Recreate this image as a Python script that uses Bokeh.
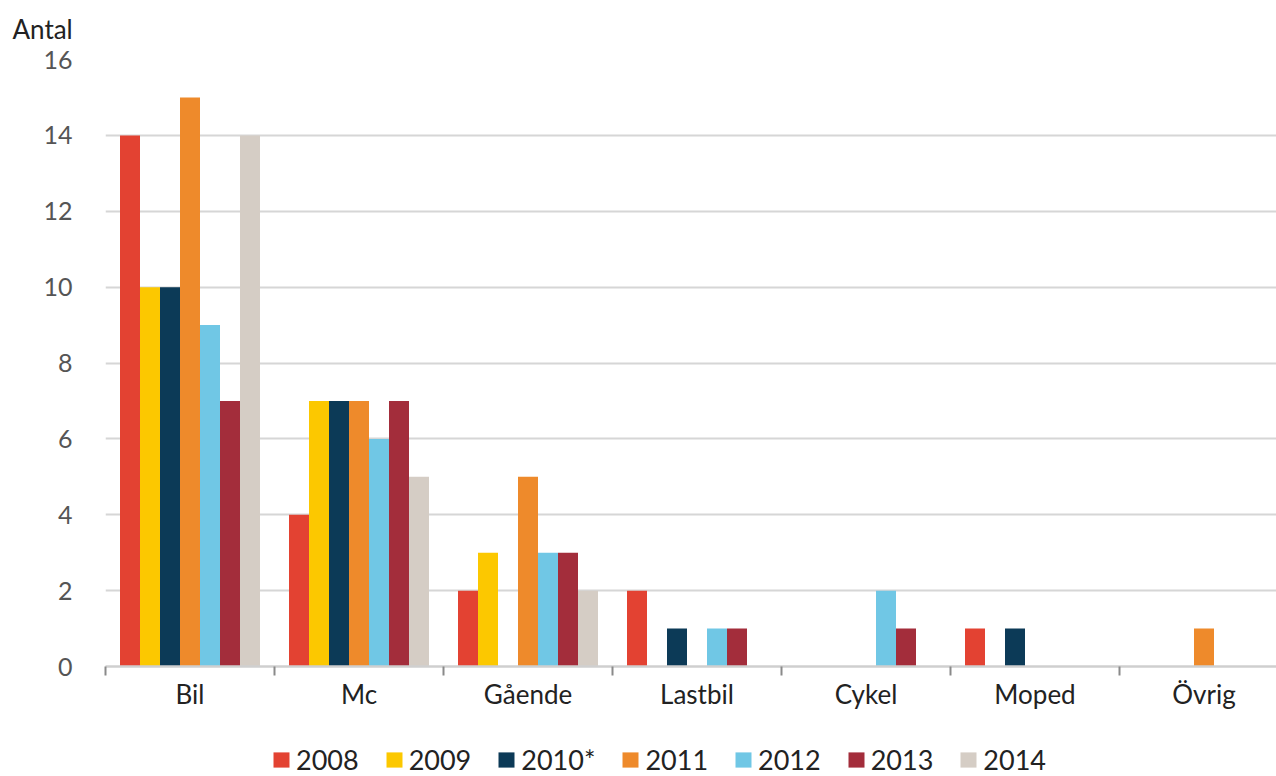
import numpy as np
from bokeh.plotting import figure
from bokeh.layouts import column
from bokeh.models import ColumnDataSource, Range1d, FixedTicker, Legend, LegendItem
from bokeh.transform import dodge
from bokeh.embed import file_html
from bokeh.resources import INLINE

categories = ["Bil", "Mc", "Gående", "Lastbil", "Cykel", "Moped", "Övrig"]
years = ["2008", "2009", "2010*", "2011", "2012", "2013", "2014"]
v2008 = [14, 4, 2, 2, 0, 1, 0]
v2009 = [10, 7, 3, 0, 0, 0, 0]
v2010 = [10, 7, 0, 1, 0, 1, 0]
v2011 = [15, 7, 5, 0, 0, 0, 1]
v2012 = [9, 6, 3, 1, 2, 0, 0]
v2013 = [7, 7, 3, 1, 1, 0, 0]
v2014 = [14, 5, 2, 0, 0, 0, 0]
series = [v2008, v2009, v2010, v2011, v2012, v2013, v2014]
colors = ["#e34232", "#fcc800", "#0c3a57", "#ee8a2b", "#70c7e5", "#a32d3b", "#d5cdc5"]

FONT = "Lato"

src = ColumnDataSource(dict(
    x=np.arange(len(categories)) + 0.5,
    **{f"y{i}": s for i, s in enumerate(series)}
))

W = 1276
H_MAIN = 730
H_LEG = 46
p = figure(width=W, height=H_MAIN, output_backend="svg", toolbar_location=None,
           x_range=Range1d(0, (W - 105) / 169.0), y_range=Range1d(0, 16),
           min_border_left=105, min_border_right=0, min_border_top=58,
           min_border_bottom=H_MAIN - 666, title="Antal")
p.outline_line_color = None
p.xgrid.grid_line_color = None
p.ygrid.grid_line_color = "#d6d6d6"
p.ygrid.grid_line_width = 2
p.ygrid.ticker = FixedTicker(ticks=list(range(2, 17, 2)))

p.title.align = "left"
p.title.offset = -93
p.title.vertical_align = "top"
p.title.text_font = FONT
p.title.text_font_size = "26px"
p.title.text_font_style = "normal"
p.title.text_color = "#222222"
p.title.standoff = 25

bw = 20 / 169.0
for i, c in enumerate(colors):
    p.vbar(x=dodge("x", (i - 3) * bw, range=p.x_range), top=f"y{i}", width=bw,
           source=src, fill_color=c, line_color=None)

# y axis
p.yaxis.ticker = FixedTicker(ticks=list(range(0, 17, 2)))
p.yaxis.axis_line_color = None
p.yaxis.major_tick_line_color = None
p.yaxis.minor_tick_line_color = None
p.yaxis.major_label_standoff = 27
p.yaxis.major_label_text_font = FONT
p.yaxis.major_label_text_font_size = "25px"
p.yaxis.major_label_text_color = "#555555"

# x axis
p.xaxis.ticker = FixedTicker(ticks=list(np.arange(len(categories)) + 0.5),
                             minor_ticks=list(range(0, len(categories) + 1)))
p.xaxis.major_label_overrides = {float(i + 0.5): c for i, c in enumerate(categories)}
p.xaxis.axis_line_color = "#cfcfcf"
p.xaxis.axis_line_width = 2.5
p.xaxis.major_tick_line_color = None
p.xaxis.major_tick_out = 0
p.xaxis.major_tick_in = 0
p.xaxis.minor_tick_line_color = "#8a8a8a"
p.xaxis.minor_tick_line_width = 2
p.xaxis.minor_tick_out = 9
p.xaxis.minor_tick_in = 0
p.xaxis.major_label_standoff = 2
p.xaxis.major_label_text_font = FONT
p.xaxis.major_label_text_font_size = "26px"
p.xaxis.major_label_text_color = "#222222"

# legend strip below the chart (its bars fall outside its ranges; only the legend shows)
lg = figure(width=W, height=H_LEG, output_backend="svg", toolbar_location=None,
            x_range=Range1d(-20, -19), y_range=Range1d(0, 1),
            x_axis_type=None, y_axis_type=None,
            min_border_left=0, min_border_right=0, min_border_top=0, min_border_bottom=0)
lg.outline_line_color = None
lg.grid.grid_line_color = None
items = []
for i, (yr, c) in enumerate(zip(years, colors)):
    r = lg.vbar(x="x", top=f"y{i}", width=bw, source=src, fill_color=c, line_color=None)
    items.append(LegendItem(label=yr, renderers=[r]))
legend = Legend(items=items, orientation="horizontal", location=(166, 0),
                glyph_width=20, glyph_height=19, label_standoff=5, spacing=25,
                padding=0, margin=0, border_line_color=None, background_fill_alpha=0,
                label_text_font=FONT, label_text_font_size="27px", label_text_color="#222222")
lg.add_layout(legend, "center")

open("out.html", "w").write(file_html(column(p, lg, spacing=0), INLINE))
